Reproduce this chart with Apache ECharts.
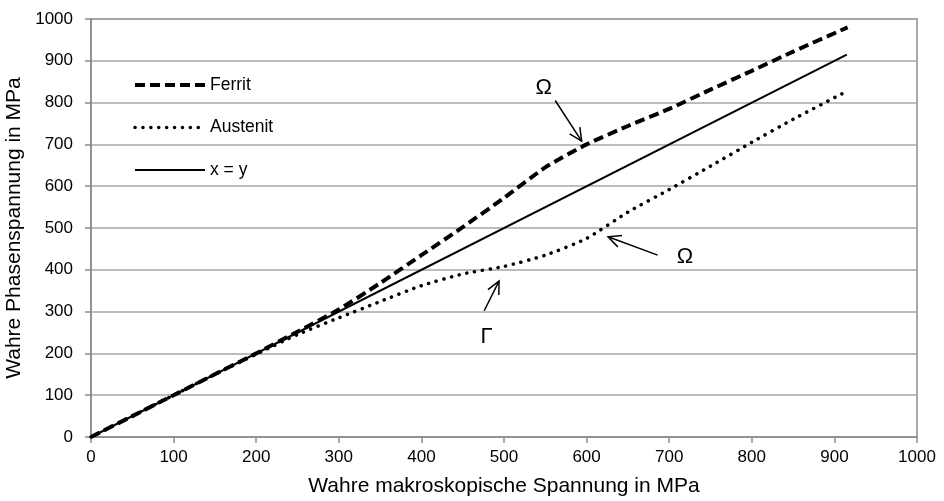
<!DOCTYPE html>
<html><head><meta charset="utf-8">
<script src="https://cdn.jsdelivr.net/npm/echarts@6/dist/echarts.min.js"></script>
<style>html,body{margin:0;padding:0;background:#fff}#c{width:944px;height:501px}</style>
</head><body><div id="c"></div>
<script>
const ferritX = [0,50,100,150,200,250,300,350,400,450,500,550,600,650,700,750,800,850,916];
const ferritY = [0,50,100,150,200,252,305,368,435,502,572,645,700,744,785,831,876,922,980];
const austenitX = [0,50,100,150,200,250,300,350,400,450,500,550,600,650,700,750,800,850,909];
const austenitY = [0,50,100,150,198,245,285,324,362,390,408,435,475,538,592,648,705,760,821];
const identX = [0,915];
const identY = [0,915];
const axisTicks = [0,100,200,300,400,500,600,700,800,900,1000];
// annotations in data coordinates: label position, arrow start, arrow end
const annotations = [
  {text:'Ω', label:[548,836], from:[562,805], to:[594,708]},
  {text:'Ω', label:[719,431], from:[686,435], to:[626,479]},
  {text:'Γ', label:[479,239], from:[476,302], to:[494,373]}
];
const zip = (xs,ys)=>xs.map((x,i)=>[x,ys[i]]);
const font = '"Liberation Sans", Arial, sans-serif';
const chart = echarts.init(document.getElementById('c'));
const axisCommon = {
  type:'value', min:axisTicks[0], max:axisTicks[axisTicks.length-1], interval:100,
  axisLine:{show:true,lineStyle:{color:'#8c8c8c',width:1.5}},
  axisTick:{show:true,length:6,lineStyle:{color:'#8c8c8c',width:1.5}},
  axisLabel:{color:'#000',fontSize:17,fontFamily:font,formatter:v=>String(v)},
  splitLine:{show:true,lineStyle:{color:'#a6a6a6',width:1.5}},
  nameLocation:'middle',
  nameTextStyle:{color:'#000',fontSize:21,fontFamily:font}
};
chart.setOption({
  animation:false,
  grid:{left:91,right:27,top:19,bottom:64,show:true,borderColor:'#8c8c8c',borderWidth:1.5,outerBoundsMode:'none'},
  legend:{
    orient:'vertical', left:128, top:71, itemWidth:70, itemHeight:14, itemGap:24.5,
    textStyle:{color:'#000',fontSize:17.5,fontFamily:font},
    itemStyle:{opacity:0},
    lineStyle:{width:'inherit'},
    data:['Ferrit','Austenit','x = y']
  },
  xAxis:Object.assign({},axisCommon,{name:'Wahre makroskopische Spannung in MPa',nameGap:39,
    splitLine:{show:false},axisLabel:Object.assign({},axisCommon.axisLabel,{margin:12})}),
  yAxis:Object.assign({},axisCommon,{name:'Wahre Phasenspannung in MPa',nameGap:56,axisLabel:Object.assign({},axisCommon.axisLabel,{margin:18})}),
  series:[
    {name:'Ferrit',type:'line',data:zip(ferritX,ferritY),smooth:0.2,symbol:'none',
     lineStyle:{color:'#000',width:4,type:[10,5]},itemStyle:{color:'#000'}},
    {name:'Austenit',type:'line',data:zip(austenitX,austenitY),smooth:0.2,symbol:'none',
     lineStyle:{color:'#000',width:3.5,type:[0.1,7.8],cap:'round'},itemStyle:{color:'#000'}},
    {name:'x = y',type:'line',data:zip(identX,identY),symbol:'none',
     lineStyle:{color:'#000',width:2},itemStyle:{color:'#000'}}
  ]
});
function drawAnnotations(){
  const els=[];
  annotations.forEach(a=>{
    const L=chart.convertToPixel({gridIndex:0},a.label);
    const F=chart.convertToPixel({gridIndex:0},a.from);
    const T=chart.convertToPixel({gridIndex:0},a.to);
    els.push({type:'text',x:L[0],y:L[1],style:{text:a.text,fill:'#000',font:'22px '+font,align:'center',verticalAlign:'middle'}});
    els.push({type:'line',shape:{x1:F[0],y1:F[1],x2:T[0],y2:T[1]},style:{stroke:'#000',lineWidth:1.5}});
    const ang=Math.atan2(T[1]-F[1],T[0]-F[0]);
    const len=14, spread=0.45;
    const p1=[T[0]-len*Math.cos(ang-spread),T[1]-len*Math.sin(ang-spread)];
    const p2=[T[0]-len*Math.cos(ang+spread),T[1]-len*Math.sin(ang+spread)];
    els.push({type:'polyline',shape:{points:[p1,T,p2]},style:{stroke:'#000',lineWidth:1.5,fill:null}});
  });
  chart.setOption({graphic:els});
}
drawAnnotations();
</script></body></html>
